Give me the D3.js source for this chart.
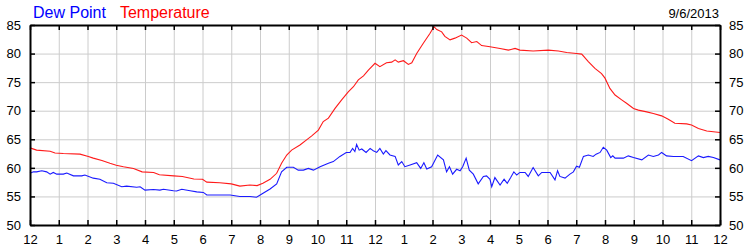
<!DOCTYPE html>
<html>
<head>
<meta charset="utf-8">
<script src="https://cdn.jsdelivr.net/npm/d3@7"></script>
<style>
  body { margin: 0; background: #fff; }
  svg text { font-family: "Liberation Sans", Arial, sans-serif; }
</style>
</head>
<body>
<div id="chart"></div>
<script>
// hours since midnight, degrees F
const temperature = [
  [0, 63.5], [0.23, 63.1], [0.7, 62.9], [0.87, 62.6], [1.16, 62.5], [1.74, 62.4],
  [2.03, 62.0], [2.2, 61.7], [2.5, 61.3], [2.78, 60.8], [3.0, 60.45], [3.25, 60.2],
  [3.6, 59.9], [3.9, 59.3], [4.3, 59.2], [4.5, 58.8], [5.0, 58.6], [5.3, 58.5],
  [5.7, 58.05], [6.0, 58.0], [6.15, 57.5], [6.6, 57.4], [7.0, 57.2], [7.3, 56.8],
  [7.65, 57.0], [7.9, 56.9], [8.1, 57.3], [8.35, 58.0], [8.58, 59.05], [8.75, 60.8],
  [8.93, 62.25], [9.1, 63.1], [9.39, 64.0], [9.62, 64.9], [9.8, 65.6], [10.03, 66.6],
  [10.2, 68.1], [10.38, 68.7], [10.61, 70.4], [10.84, 71.9], [11.07, 73.3], [11.25, 74.2],
  [11.42, 75.4], [11.6, 76.1], [11.77, 77.1], [12.0, 78.3], [12.17, 77.7], [12.4, 78.4],
  [12.58, 78.5], [12.7, 78.9], [12.81, 78.5], [12.99, 78.75], [13.16, 78.1], [13.28, 78.4],
  [13.45, 80.0], [13.68, 81.8], [13.91, 83.5], [14.05, 84.7], [14.15, 84.2], [14.32, 83.8],
  [14.43, 83.0], [14.61, 82.4], [14.78, 82.7], [15.01, 83.25], [15.19, 82.7], [15.36, 81.9],
  [15.54, 82.1], [15.71, 81.4], [16.0, 81.2], [16.35, 80.9], [16.64, 80.6], [16.87, 80.9],
  [17.04, 80.6], [17.5, 80.45], [18.03, 80.6], [18.38, 80.45], [18.67, 80.2], [19.01, 80.0],
  [19.19, 79.9], [19.42, 78.6], [19.65, 77.4], [19.88, 76.5], [20.0, 75.7], [20.17, 73.9],
  [20.35, 72.75], [20.58, 71.9], [20.75, 71.3], [20.99, 70.4], [21.16, 70.1], [21.45, 69.8],
  [21.68, 69.5], [21.97, 69.1], [22.2, 68.5], [22.43, 67.8], [22.84, 67.7], [23.01, 67.5],
  [23.25, 66.9], [23.54, 66.45], [24.0, 66.2]
];

const dewPoint = [
  [0, 59.05], [0.12, 59.3], [0.23, 59.3], [0.41, 59.5], [0.58, 59.3], [0.7, 58.9],
  [0.81, 59.2], [0.93, 58.9], [1.16, 58.9], [1.28, 59.1], [1.51, 58.6], [1.8, 58.6],
  [1.91, 58.75], [2.2, 58.2], [2.43, 58.0], [2.67, 57.4], [2.9, 57.3], [3.19, 56.7],
  [3.36, 56.8], [3.71, 56.6], [3.83, 56.7], [4.0, 56.1], [4.29, 56.2], [4.52, 56.1],
  [4.64, 56.25], [4.99, 56.0], [5.1, 55.95], [5.28, 56.25], [5.57, 56.0], [5.8, 55.8],
  [6.03, 55.7], [6.15, 55.25], [6.96, 55.25], [7.3, 55.0], [7.65, 55.0], [7.88, 54.85],
  [8.12, 55.6], [8.35, 56.3], [8.58, 57.2], [8.75, 59.3], [8.93, 60.1], [9.16, 60.1],
  [9.33, 59.6], [9.51, 59.6], [9.68, 59.9], [9.86, 59.6], [10.09, 60.2], [10.38, 60.8],
  [10.55, 61.1], [10.78, 62.0], [11.0, 62.7], [11.13, 62.7], [11.22, 63.4], [11.3, 62.85],
  [11.36, 64.1], [11.45, 63.1], [11.54, 63.3], [11.69, 62.7], [11.83, 63.4], [11.94, 63.0],
  [12.06, 62.7], [12.17, 63.4], [12.29, 62.4], [12.38, 63.0], [12.52, 62.25], [12.7, 62.0],
  [12.81, 60.5], [12.93, 61.1], [13.04, 60.2], [13.22, 60.5], [13.45, 60.9], [13.59, 59.9],
  [13.7, 60.9], [13.8, 59.8], [13.97, 60.2], [14.18, 62.25], [14.38, 61.4], [14.49, 59.3],
  [14.59, 60.2], [14.7, 58.9], [14.84, 59.75], [14.96, 59.5], [15.05, 60.2], [15.17, 61.7],
  [15.28, 59.6], [15.42, 58.9], [15.59, 57.2], [15.77, 58.5], [15.88, 58.6], [16.0, 58.0],
  [16.06, 56.7], [16.17, 58.3], [16.35, 57.0], [16.49, 58.0], [16.6, 57.3], [16.72, 58.3],
  [16.83, 59.3], [16.93, 58.75], [17.04, 59.2], [17.22, 59.2], [17.33, 58.5], [17.5, 60.05],
  [17.68, 58.6], [17.8, 59.2], [18.09, 59.2], [18.26, 57.9], [18.35, 59.5], [18.43, 58.5],
  [18.61, 58.2], [18.78, 58.9], [18.9, 59.3], [19.01, 60.3], [19.11, 60.1], [19.25, 62.0],
  [19.42, 62.25], [19.59, 62.0], [19.69, 62.4], [19.83, 62.7], [19.94, 63.6], [20.06, 63.1],
  [20.2, 61.8], [20.27, 62.1], [20.35, 61.7], [20.64, 61.7], [20.81, 62.1], [20.99, 61.8],
  [21.28, 61.4], [21.51, 62.25], [21.68, 62.0], [21.86, 62.25], [21.97, 62.7], [22.14, 62.1],
  [22.38, 62.0], [22.72, 62.0], [23.01, 61.25], [23.25, 62.1], [23.42, 61.8], [23.59, 62.0],
  [23.77, 61.8], [24.0, 61.4]
];

const hourTicks = d3.range(0, 25);
const tempTicks = [50, 55, 60, 65, 70, 75, 80, 85];
const dateLabel = "9/6/2013";

const config = {
  width: 750, height: 250,
  margin: { top: 25, right: 30, bottom: 25, left: 30 }
};

const w = config.width - config.margin.left - config.margin.right;
const h = config.height - config.margin.top - config.margin.bottom;

const svg = d3.select("#chart").append("svg")
  .attr("width", config.width)
  .attr("height", config.height);

const g = svg.append("g")
  .attr("transform", `translate(${config.margin.left},${config.margin.top})`);

const x = d3.scaleLinear().domain([0, 24]).range([0, w]);
const y = d3.scaleLinear().domain([50, 85]).range([h, 0]);

// grid
g.append("g")
  .attr("class", "grid")
  .call(d3.axisBottom(x).tickValues(hourTicks).tickSize(h).tickFormat(""))
  .call(a => a.select(".domain").remove())
  .call(a => a.selectAll("line").attr("stroke", "#cccccc"));
g.append("g")
  .attr("class", "grid")
  .call(d3.axisLeft(y).tickValues(tempTicks).tickSize(-w).tickFormat(""))
  .call(a => a.select(".domain").remove())
  .call(a => a.selectAll("line").attr("stroke", "#cccccc"));

// lines
const line = d3.line().x(d => x(d[0])).y(d => y(d[1]));

g.append("path")
  .datum(dewPoint)
  .attr("fill", "none")
  .attr("stroke", "#1a1aff")
  .attr("stroke-width", 1.1)
  .attr("d", line);

g.append("path")
  .datum(temperature)
  .attr("fill", "none")
  .attr("stroke", "#ff1a1a")
  .attr("stroke-width", 1.1)
  .attr("d", line);

// axes with inward ticks
const hourFmt = d => (d % 12 === 0 ? 12 : d % 12);

const styleAxis = a => {
  a.select(".domain").attr("stroke", "#000").attr("stroke-width", 2);
  a.selectAll(".tick line").attr("stroke", "#000").attr("stroke-width", 1.5);
  a.selectAll("text").attr("fill", "#000").style("font-size", "13px");
};

g.append("g")
  .attr("transform", `translate(0,${h})`)
  .call(d3.axisBottom(x).tickValues(hourTicks).tickFormat(hourFmt)
    .tickSizeInner(-5).tickSizeOuter(0).tickPadding(10))
  .call(styleAxis);

g.append("g")
  .call(d3.axisTop(x).tickValues(hourTicks).tickFormat("")
    .tickSizeInner(-5).tickSizeOuter(0))
  .call(styleAxis);

g.append("g")
  .call(d3.axisLeft(y).tickValues(tempTicks)
    .tickSizeInner(-5).tickSizeOuter(0).tickPadding(9))
  .call(styleAxis);

g.append("g")
  .attr("transform", `translate(${w},0)`)
  .call(d3.axisRight(y).tickValues(tempTicks)
    .tickSizeInner(-5).tickSizeOuter(0).tickPadding(9))
  .call(styleAxis);

// legend
const legend = svg.append("text")
  .attr("x", 33)
  .attr("y", 18)
  .style("font-size", "16px");
legend.append("tspan").attr("fill", "#0000ff").text("Dew Point");
legend.append("tspan").attr("fill", "#ff0000").attr("dx", 14).text("Temperature");

svg.append("text")
  .attr("x", 719)
  .attr("y", 18)
  .attr("text-anchor", "end")
  .attr("fill", "#000")
  .style("font-size", "13px")
  .text(dateLabel);
</script>
</body>
</html>
